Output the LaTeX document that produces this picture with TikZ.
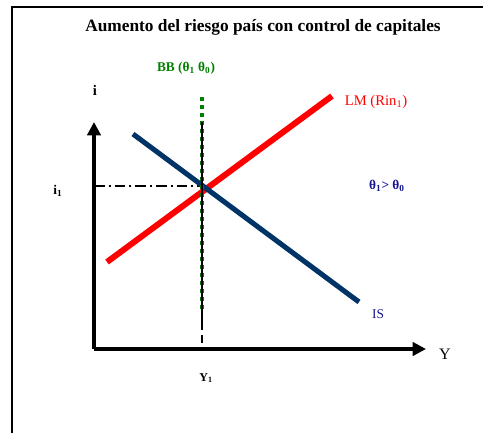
\documentclass[tikz,border=0pt]{standalone}
\usepackage{fontspec}
\setmainfont{Liberation Serif}
\usetikzlibrary{arrows.meta}
\definecolor{lmred}{RGB}{255,0,0}
\definecolor{isblue}{RGB}{0,51,102}
\definecolor{bbgreen}{RGB}{0,128,0}
\definecolor{txtblue}{RGB}{20,20,140}
\tikzset{
    axis/.style = {line width=2.4pt, -{Triangle[length=10pt,width=10pt]}},
    curvelm/.style = {line width=4.5pt, lmred},
    curveis/.style = {line width=3.8pt, isblue},
    bbline/.style = {line width=3pt, bbgreen, dash pattern=on 3pt off 3pt},
    guide/.style = {line width=1.6pt},
    lab/.style = {inner sep=0pt, font=\fontsize{#1}{#1}\selectfont}
}
\begin{document}
\begin{tikzpicture}[x=0.75pt, y=-0.75pt]
        \useasboundingbox (0,0) rectangle (483,433);
        \draw[line width=1.5pt] (12,433) -- (12,7) -- (483,7);
        \node[lab=13] (title) at (263,27) {\bfseries Aumento del riesgo país con control de capitales};
        \coordinate (O) at (94,349);
        \coordinate (itop) at (94,122);
        \coordinate (yend) at (426,349);
        \coordinate (ia) at (94,186);
        \coordinate (E) at (202,186);
        \coordinate (vtop) at (202,122);
        \coordinate (vmid) at (202,322);
        \coordinate (ya) at (202,347);
        \coordinate (bbtop) at (202,97);
        \coordinate (bbbot) at (202,310);
        \coordinate (lma) at (107,262);
        \coordinate (lmb) at (332,96);
        \coordinate (isa) at (133,134);
        \coordinate (isb) at (359,302);
        \draw[guide, dash pattern=on 8pt off 3pt on 1.5pt off 3pt] (ia) -- (E);
        \draw[curvelm] (lma) -- (lmb);
        \draw[curveis] (isa) -- (isb);
        \draw[bbline] (bbtop) -- (bbbot);
        \draw[line width=2pt] (vtop) -- (vmid);
        \draw[line width=2pt, dash pattern=on 6pt off 4pt] (vmid) -- (ya);
        \draw[axis] (O) -- (itop);
        \draw[axis] (O) -- (yend);
        \node[lab=11] (ilab) at (95,90) {\bfseries i};
        \node[lab=12] (ylab) at (445,354) {Y};
        \node[lab=10] (i1lab) at (58,191) {\bfseries i\textsubscript{1}};
        \node[lab=9] (y1lab) at (206,378) {\bfseries Y\textsubscript{1}};
        \node[lab=10, bbgreen] (bblab) at (186,68) {\bfseries BB (θ\textsubscript{1} θ\textsubscript{0})};
        \node[lab=11, lmred] (lmlab) at (376,102) {LM (Rin\textsubscript{1})};
        \node[lab=10, txtblue] (islab) at (378,314) {IS};
        \node[lab=10, txtblue] (thlab) at (387,186) {\bfseries θ\textsubscript{1}> θ\textsubscript{0}};
    \end{tikzpicture}
\end{document}
